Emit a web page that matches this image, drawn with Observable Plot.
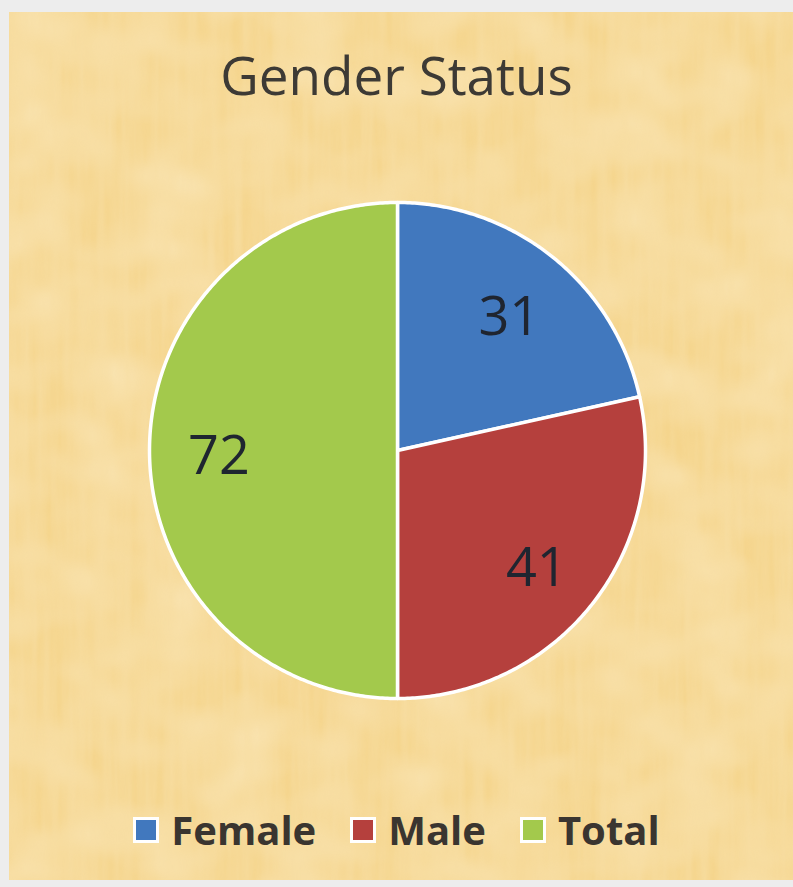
<!DOCTYPE html>
<html>
<head>
<meta charset="utf-8">
<script src="https://cdn.jsdelivr.net/npm/d3@7"></script>
<script src="https://cdn.jsdelivr.net/npm/@observablehq/plot@0.6"></script>
<style>
  html, body { margin: 0; padding: 0; }
  #page { position: relative; width: 793px; height: 887px; background: #ededed; overflow: hidden; }
  #panel { position: absolute; left: 9px; top: 12px; width: 784px; height: 868px;
    background-color: #f5d58d; }
  #tex { position: absolute; left: 0; top: 0; width: 100%; height: 100%; opacity: 0.55; }
  #title { position: absolute; left: 0; top: 48px; width: 793px; text-align: center; line-height: 53px;
    font-family: "Open Sans", sans-serif; font-size: 53px; color: #3d3a35; }
  #chart { position: absolute; left: 0; top: 0; }
  #legend { position: absolute; left: 0; top: 810px; width: 793px; display: flex; justify-content: center;
    gap: 34px; font-family: "Open Sans", sans-serif; font-weight: bold; font-size: 40px; line-height: 40px; color: #3a3530; }
  .item { display: flex; align-items: center; gap: 12px; }
  .sw { width: 20px; height: 20px; border: 3px solid #fff; box-sizing: content-box; }
</style>
</head>
<body>
<div id="page">
  <div id="panel">
    <svg id="tex" width="784" height="868">
      <filter id="fib" x="0" y="0" width="100%" height="100%">
        <feTurbulence type="fractalNoise" baseFrequency="0.09 0.006" numOctaves="3" seed="4"/>
        <feColorMatrix type="matrix" values="0 0 0 0 0.95  0 0 0 0 0.78  0 0 0 0 0.46  0 0 0 -1.1 0.9"/>
      </filter>
      <filter id="blot" x="0" y="0" width="100%" height="100%">
        <feTurbulence type="fractalNoise" baseFrequency="0.015 0.02" numOctaves="2" seed="9"/>
        <feColorMatrix type="matrix" values="0 0 0 0 1  0 0 0 0 0.93  0 0 0 0 0.76  0 0 0 -1.4 0.95"/>
      </filter>
      <rect width="784" height="868" filter="url(#blot)"/>
      <rect width="784" height="868" filter="url(#fib)"/>
    </svg>
  </div>
  <div id="chart"></div>
  <div id="title">Gender Status</div>
  <div id="legend"></div>
</div>
<script>
const categories = ["Female", "Male", "Total"];
const values = [31, 41, 72];
const colors = ["#4178be", "#b5403d", "#a3c94c"];

const data = categories.map((c, i) => ({category: c, value: values[i]}));
const arcs = d3.pie().sort(null).value(d => d.value)(data);

// polygon outline of each slice (unit radius) from pie angles
const poly = [];
for (const a of arcs) {
  const n = Math.max(2, Math.ceil((a.endAngle - a.startAngle) / 0.01));
  poly.push({category: a.data.category, x: 0, y: 0});
  for (let k = 0; k <= n; k++) {
    const t = a.startAngle + (a.endAngle - a.startAngle) * k / n;
    poly.push({category: a.data.category, x: Math.sin(t), y: Math.cos(t)});
  }
  poly.push({category: a.data.category, x: 0, y: 0});
}
const labels = arcs.map(a => {
  const m = (a.startAngle + a.endAngle) / 2;
  return {category: a.data.category, value: a.data.value, x: 0.72 * Math.sin(m), y: 0.72 * Math.cos(m)};
});

const chart = Plot.plot({
  width: 793, height: 887,
  margin: 0,
  style: {background: "transparent"},
  x: {domain: [-1, 1], range: [149, 645], axis: null},
  y: {domain: [-1, 1], range: [698, 202], axis: null},
  color: {domain: categories, range: colors},
  marks: [
    Plot.line(poly, {x: "x", y: "y", z: "category", fill: "category", stroke: "#ffffff", strokeWidth: 3.5, strokeLinejoin: "round"}),
    Plot.text(labels, {x: "x", y: "y", text: d => String(d.value), fontSize: 54, fill: "#1f2530", dy: 6,
      fontFamily: "Open Sans, sans-serif"})
  ]
});
document.getElementById("chart").appendChild(chart);

const leg = document.getElementById("legend");
categories.forEach((c, i) => {
  const it = document.createElement("div");
  it.className = "item";
  it.innerHTML = `<span class="sw" style="background:${colors[i]}"></span><span>${c}</span>`;
  leg.appendChild(it);
});
</script>
</body>
</html>
